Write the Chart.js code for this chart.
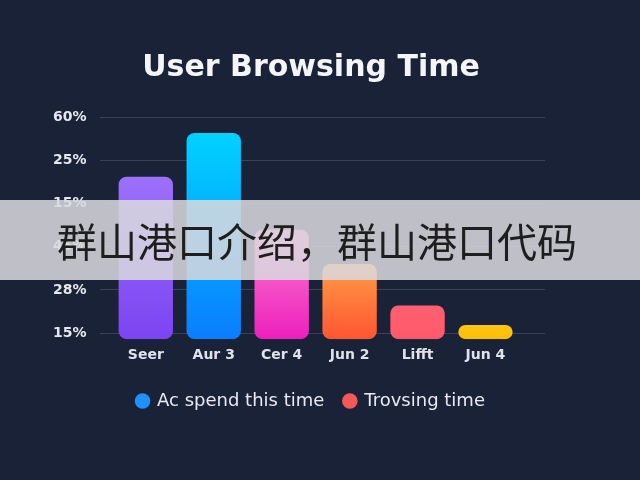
<!DOCTYPE html>
<html>
<head>
<meta charset="utf-8">
<script src="https://cdn.jsdelivr.net/npm/chart.js@4.4.1/dist/chart.umd.min.js"></script>
<style>
  html, body { margin:0; padding:0; background:#1a2238; }
  #wrap { position:relative; width:640px; height:480px; }
  #banner {
    position:absolute; left:0; top:200px; width:640px; height:80px;
    background:rgba(218,218,222,0.86);
    font-family:"Noto Sans CJK SC", sans-serif; font-size:40px; color:#1e1e1e;
    line-height:80px; padding-left:57px; box-sizing:border-box; white-space:nowrap;
  }
</style>
</head>
<body>
<div id="wrap">
  <canvas id="Charts" width="640" height="480"></canvas>
  <div id="banner">群山港口介绍，群山港口代码</div>
</div>
<script>
// chart data
var categories = ['Seer', 'Aur 3', 'Cer 4', 'Jun 2', 'Lifft', 'Jun 4'];
var values = [3.62, 4.63, 2.39, 1.60, 0.64, 0.19];
var yTickLabels = ['15%', '28%', '45%', '15%', '25%', '60%'];
var legendNames = ['Ac spend this time', 'Trovsing time'];
var legendColors = ['#1e90ff', '#f25a5a'];
var barTop = ['#9c70fb', '#00d2ff', '#ff7fd0', '#ff9d45', '#ff5f6f', '#ffc414'];
var barBottom = ['#7c44f2', '#0a7dff', '#ec1fbd', '#ff5532', '#ff5a6b', '#ffbd0a'];

var base = -0.14;

function barFill(c){
    var chart = c.chart;
    var area = chart.chartArea;
    var i = c.dataIndex;
    if(!area) return barTop[i];
    var top = chart.scales.y.getPixelForValue(values[i]);
    var g = chart.ctx.createLinearGradient(0, top, 0, area.bottom);
    g.addColorStop(0, barTop[i]);
    g.addColorStop(1, barBottom[i]);
    return g;
}

var bg = {
    id: 'bg',
    beforeDraw: function(chart){
        var c = chart.ctx;
        c.save();
        c.fillStyle = '#1a2238';
        c.fillRect(0, 0, chart.width, chart.height);
        c.restore();
    }
};

var ctx = document.getElementById('Charts').getContext('2d');
var myChart = new Chart(ctx, {
    type: 'bar',
    data: {
        datasets: [{
            label: legendNames[0],
            data: values.map(function(v, i){ return {x: i, y: v}; }),
            base: base,
            backgroundColor: barFill,
            borderRadius: 8,
            borderSkipped: false,
            barPercentage: 0.80,
            categoryPercentage: 1.0
        }]
    },
    options: {
        responsive: false,
        animation: false,
        layout: { padding: { left: 77, right: 95, top: 20, bottom: 60 } },
        plugins: {
            title: {
                display: true,
                text: 'User Browsing Time',
                color: '#f4f5f8',
                font: { family: 'DejaVu Sans', size: 30, weight: 'bold' },
                padding: { top: 30, bottom: 31 }
            },
            legend: {
                position: 'bottom',
                labels: {
                    color: '#e8eaf0',
                    font: { family: 'DejaVu Sans', size: 18 },
                    usePointStyle: true,
                    boxWidth: 11,
                    boxHeight: 11,
                    padding: 20,
                    generateLabels: function(){
                        return legendNames.map(function(n, i){
                            return { text: n, fillStyle: legendColors[i], strokeStyle: legendColors[i],
                                     lineWidth: 0, pointStyle: 'circle', fontColor: '#e8eaf0', datasetIndex: 0 };
                        });
                    }
                }
            },
            tooltip: { enabled: false }
        },
        scales: {
            x: {
                type: 'linear',
                offset: false,
                min: -0.674,
                max: 5.876,
                grid: { display: false, drawTicks: false },
                border: { display: false },
                afterBuildTicks: function(s){
                    s.ticks = categories.map(function(_, i){ return {value: i}; });
                },
                ticks: {
                    color: '#e0e3ea',
                    font: { family: 'DejaVu Sans', size: 14, weight: 'bold' },
                    padding: 8,
                    maxRotation: 0,
                    autoSkip: false,
                    callback: function(v){ return categories[v]; }
                }
            },
            y: {
                min: base,
                max: 5,
                afterBuildTicks: function(s){
                    s.ticks = yTickLabels.map(function(_, i){ return {value: i}; });
                },
                afterFit: function(s){ s.width = 23; },
                grid: { color: 'rgba(255,255,255,0.15)', drawTicks: false },
                border: { display: false },
                ticks: {
                    mirror: true,
                    color: '#e6e8ef',
                    font: { family: 'DejaVu Sans', size: 14, weight: 'bold' },
                    padding: -47,
                    callback: function(v){ return yTickLabels[v]; }
                }
            }
        }
    },
    plugins: [bg]
});
</script>
</body>
</html>
